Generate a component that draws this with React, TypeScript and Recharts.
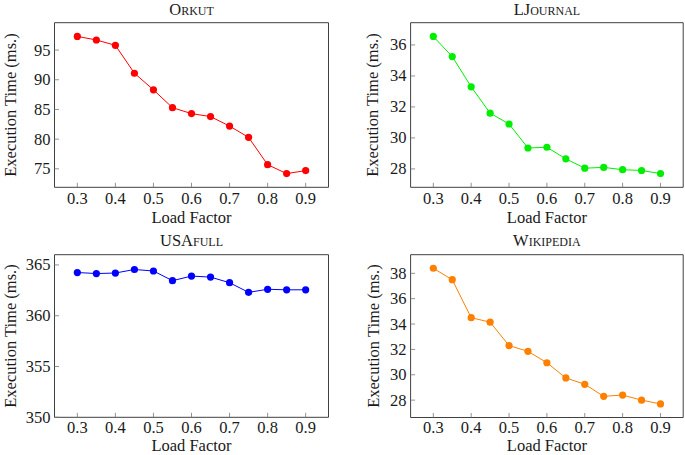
import React from 'react'
import { LineChart, Line, XAxis, YAxis, ReferenceArea } from 'recharts'

const loadFactors = [0.3, 0.35, 0.4, 0.45, 0.5, 0.55, 0.6, 0.65, 0.7, 0.75, 0.8, 0.85, 0.9]
const xTicks = [0.3, 0.4, 0.5, 0.6, 0.7, 0.8, 0.9]

const orkut = [97.3, 96.7, 95.8, 91.1, 88.3, 85.3, 84.3, 83.8, 82.2, 80.3, 75.7, 74.2, 74.7]
const ljournal = [36.55, 35.25, 33.3, 31.6, 30.9, 29.35, 29.4, 28.65, 28.05, 28.1, 27.95, 27.9, 27.7]
const usafull = [364.25, 364.15, 364.2, 364.55, 364.4, 363.45, 363.9, 363.8, 363.25, 362.3, 362.6, 362.55, 362.55]
const wikipedia = [38.4, 37.5, 34.5, 34.15, 32.3, 31.85, 30.95, 29.75, 29.25, 28.3, 28.4, 28.0, 27.7]

const orkutTicks = [75, 80, 85, 90, 95]
const ljournalTicks = [28, 30, 32, 34, 36]
const usafullTicks = [350, 355, 360, 365]
const wikipediaTicks = [28, 30, 32, 34, 36, 38]

const FONT = "'Liberation Serif', 'DejaVu Serif', serif"
const FS = 16.5
const TEXT = '#1a1a1a'
const FRAME = '#404040'
const X_DOMAIN: [number, number] = [0.24, 0.96]

// pgfplots-style 10% enlargement of the data range
function enlarge(values: number[], fixedMin?: number): [number, number] {
  const lo = fixedMin ?? Math.min(...values)
  const hi = Math.max(...values)
  const pad = (hi - lo) * 0.1
  return [fixedMin ?? lo - pad, hi + pad]
}

interface Panel {
  title: React.ReactNode
  values: number[]
  yTicks: number[]
  yDomain: [number, number]
  color: string
  left: number
  top: number
  width: number
  height: number
  plotLeft: number
  plotRight: number
  plotTop: number
  plotBottom: number
  labelX: number
  titleY: number
  tickGap: number
  xLabelGap: number
}

const sc = (big: string, small: string) => (
  <>
    {big}
    <tspan style={{ fontVariant: 'small-caps' }}>{small}</tspan>
  </>
)

const panels: Panel[] = [
  {
    title: sc('O', 'rkut'),
    values: orkut,
    yTicks: orkutTicks,
    yDomain: enlarge(orkut),
    color: '#ff0000',
    left: 0, top: 0, width: 342, height: 228,
    plotLeft: 54.5, plotRight: 328.5, plotTop: 22.7, plotBottom: 187.3,
    labelX: 15.5, titleY: 15, tickGap: 16.5, xLabelGap: 35.5,
  },
  {
    title: sc('LJ', 'ournal'),
    values: ljournal,
    yTicks: ljournalTicks,
    yDomain: enlarge(ljournal),
    color: '#00ee00',
    left: 342, top: 0, width: 343, height: 228,
    plotLeft: 68.6, plotRight: 341.2, plotTop: 22.7, plotBottom: 187.3,
    labelX: 35.5, titleY: 15, tickGap: 16.5, xLabelGap: 35.5,
  },
  {
    title: sc('USA', 'full'),
    values: usafull,
    yTicks: usafullTicks,
    yDomain: enlarge(usafull, 350),
    color: '#0000ff',
    left: 0, top: 228, width: 342, height: 227,
    plotLeft: 54.5, plotRight: 328.5, plotTop: 26.7, plotBottom: 189.3,
    labelX: 15.5, titleY: 17.5, tickGap: 15.5, xLabelGap: 34,
  },
  {
    title: sc('W', 'ikipedia'),
    values: wikipedia,
    yTicks: wikipediaTicks,
    yDomain: enlarge(wikipedia),
    color: '#ff8000',
    left: 342, top: 228, width: 343, height: 227,
    plotLeft: 68.6, plotRight: 341.2, plotTop: 26.7, plotBottom: 189.5,
    labelX: 36.5, titleY: 17.5, tickGap: 15.5, xLabelGap: 33.8,
  },
]

const XTick = (props: any) => {
  const { x, y, payload, gap } = props
  return (
    <g>
      <line x1={x} x2={x} y1={y} y2={y - 4.5} stroke="#777" strokeWidth={0.8} />
      <text x={x} y={y + gap} textAnchor="middle" fill={TEXT} style={{ fontFamily: FONT, fontSize: FS }}>
        {payload.value.toFixed(1)}
      </text>
    </g>
  )
}

const YTick = (props: any) => {
  const { x, y, payload } = props
  return (
    <g>
      <line x1={x} x2={x + 4.5} y1={y} y2={y} stroke="#777" strokeWidth={0.8} />
      <text x={x - 4} y={y + 5.5} textAnchor="end" fill={TEXT} style={{ fontFamily: FONT, fontSize: FS }}>
        {payload.value}
      </text>
    </g>
  )
}

function PanelChart({ panel }: { panel: Panel }) {
  const data = loadFactors.map((lf, i) => ({ lf, v: panel.values[i] }))
  const plotMidX = (panel.plotLeft + panel.plotRight) / 2
  const plotMidY = (panel.plotTop + panel.plotBottom) / 2
  const textStyle = { fontFamily: FONT, fontSize: FS }
  return (
    <div style={{ position: 'absolute', left: panel.left, top: panel.top, width: panel.width, height: panel.height }}>
      <LineChart
        width={panel.width}
        height={panel.height}
        data={data}
        margin={{ top: panel.plotTop, right: panel.width - panel.plotRight, bottom: 0, left: 0 }}
      >
        <XAxis
          dataKey="lf"
          type="number"
          domain={X_DOMAIN}
          ticks={xTicks}
          tick={<XTick gap={panel.tickGap} />}
          tickSize={0}
          tickMargin={0}
          axisLine={false}
          tickLine={false}
          height={panel.height - panel.plotBottom}
          interval={0}
          label={{
            value: 'Load Factor',
            content: () => (
              <g>
                <text x={plotMidX} y={panel.titleY} textAnchor="middle" fill={TEXT} style={textStyle}>
                  {panel.title}
                </text>
                <text x={plotMidX} y={panel.plotBottom + panel.xLabelGap} textAnchor="middle" fill={TEXT} style={textStyle}>
                  Load Factor
                </text>
              </g>
            ),
          }}
        />
        <YAxis
          type="number"
          domain={panel.yDomain}
          ticks={panel.yTicks}
          tick={<YTick />}
          tickSize={0}
          tickMargin={0}
          axisLine={false}
          tickLine={false}
          width={panel.plotLeft}
          interval={0}
          allowDataOverflow
          label={{
            value: 'Execution Time (ms.)',
            content: () => (
              <text
                transform={`translate(${panel.labelX}, ${plotMidY}) rotate(-90)`}
                textAnchor="middle"
                fill={TEXT}
                style={textStyle}
              >
                Execution Time (ms.)
              </text>
            ),
          }}
        />
        <ReferenceArea
          x1={X_DOMAIN[0]}
          x2={X_DOMAIN[1]}
          y1={panel.yDomain[0]}
          y2={panel.yDomain[1]}
          fill="none"
          stroke={FRAME}
          strokeWidth={1}
          ifOverflow="visible"
        />
        <Line
          dataKey="v"
          stroke={panel.color}
          strokeWidth={1}
          dot={{ r: 3.6, fill: panel.color, stroke: panel.color, strokeWidth: 0 }}
          isAnimationActive={false}
        />
      </LineChart>
    </div>
  )
}

export default function App() {
  return (
    <div style={{ position: 'fixed', left: 0, top: 0, width: 685, height: 455, background: '#fff', overflow: 'hidden' }}>
      {panels.map((p, i) => (
        <PanelChart key={i} panel={p} />
      ))}
    </div>
  )
}
